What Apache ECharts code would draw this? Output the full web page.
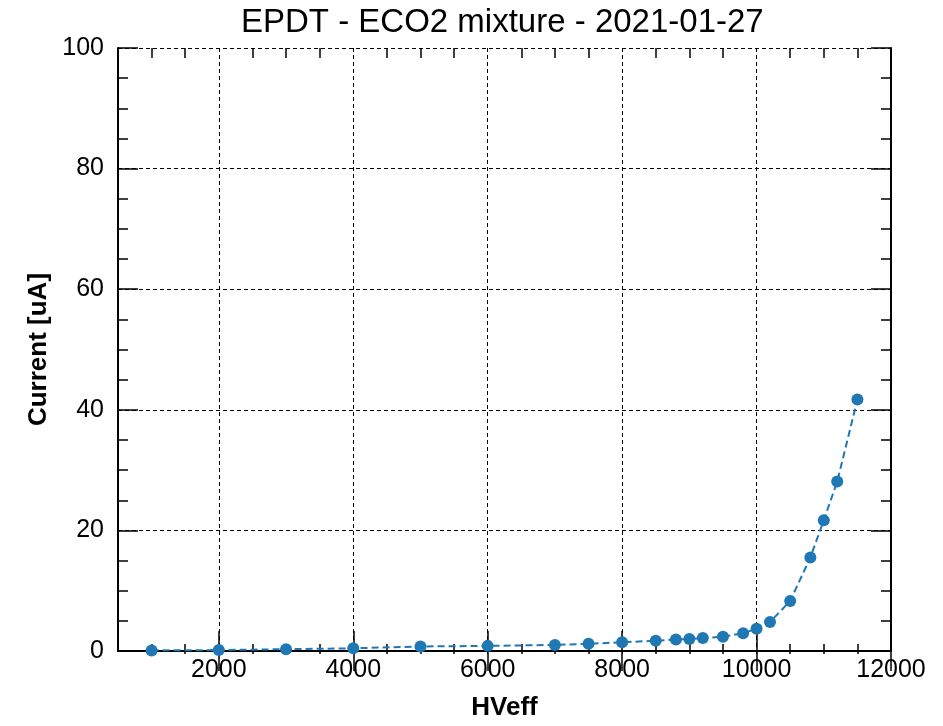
<!DOCTYPE html>
<html>
<head>
<meta charset="utf-8">
<script src="https://cdn.jsdelivr.net/npm/echarts@6/dist/echarts.min.js"></script>
<style>html,body{margin:0;padding:0;background:#fff}#c{width:943px;height:726px}</style>
</head>
<body>
<div id="c"></div>
<script>
const hvEff = [1000,2000,3000,4000,5000,6000,7000,7500,8000,8500,8800,9000,9200,9500,9800,10000,10200,10500,10800,11000,11200,11500];
const current = [0.1,0.15,0.3,0.45,0.75,0.85,1.0,1.2,1.45,1.7,1.9,2.0,2.15,2.35,2.95,3.7,4.8,8.3,15.5,21.7,28.1,41.7];
const xMajorTicks = [2000,4000,6000,8000,10000,12000];
const xMinorTicks = [1000,1500,2500,3000,3500,4500,5000,5500,6500,7000,7500,8500,9000,9500,10500,11000,11500];
const xGridLines = [2000,4000,6000,8000,10000];

const FONT = 'Liberation Sans';
const gridRect = {left:118, right:52, top:48, bottom:72};
const axisLine = {show:true, lineStyle:{color:'#000', width:2}};
const majorTick = {show:true, inside:true, length:20, lineStyle:{color:'#000', width:1.5}};
const minorTickStyle = {show:true, inside:true, length:10, lineStyle:{color:'#000', width:1.5}};
const gridLineStyle = {color:'#000', width:1, type:[4,3]};
const plainNum = function(v){ return String(v); };

const chart = echarts.init(document.getElementById('c'), null, {renderer:'canvas'});
chart.setOption({
  animation:false,
  backgroundColor:'#fff',
  title:{
    text:'EPDT - ECO2 mixture - 2021-01-27',
    left:236, top:1,
    textStyle:{fontFamily:FONT, fontSize:33, fontWeight:'normal', color:'#000'}
  },
  grid:[Object.assign({}, gridRect), Object.assign({}, gridRect)],
  xAxis:[
    {type:'value', gridIndex:0, position:'bottom', min:500, max:12000,
     name:'HVeff', nameLocation:'middle', nameGap:44,
     nameTextStyle:{fontFamily:FONT, fontSize:26, fontWeight:'bold', color:'#000'},
     axisLine:axisLine,
     axisTick:Object.assign({customValues:xMajorTicks}, majorTick),
     axisLabel:{customValues:xMajorTicks, margin:7, fontFamily:FONT, fontSize:25, color:'#000', formatter:plainNum},
     splitLine:{show:false}},
    {type:'value', gridIndex:0, position:'top', min:500, max:12000,
     axisLine:axisLine,
     axisTick:Object.assign({customValues:xMajorTicks}, majorTick),
     axisLabel:{show:false}, splitLine:{show:false}},
    {type:'value', gridIndex:1, position:'bottom', min:500, max:12000,
     axisLine:{show:false},
     axisTick:Object.assign({customValues:xMinorTicks}, minorTickStyle),
     axisLabel:{show:false}, splitLine:{show:false}},
    {type:'value', gridIndex:1, position:'top', min:500, max:12000,
     axisLine:{show:false},
     axisTick:Object.assign({customValues:xMinorTicks}, minorTickStyle),
     axisLabel:{show:false}, splitLine:{show:false}},
    {type:'value', gridIndex:1, position:'bottom', min:500, max:12000, show:true,
     axisLine:{show:false},
     axisTick:{show:false, customValues:xGridLines},
     axisLabel:{show:false},
     splitLine:{show:true, lineStyle:gridLineStyle}}
  ],
  yAxis:[
    {type:'value', gridIndex:0, position:'left', min:0, max:100, interval:20,
     name:'Current [uA]', nameLocation:'middle', nameGap:66, nameRotate:90,
     nameTextStyle:{fontFamily:FONT, fontSize:26, fontWeight:'bold', color:'#000'},
     axisLine:axisLine, axisTick:majorTick,
     minorTick:{show:true, splitNumber:4, length:10, lineStyle:{color:'#000', width:1.5}},
     axisLabel:{margin:14, fontFamily:FONT, fontSize:25, color:'#000', formatter:plainNum},
     splitLine:{show:true, lineStyle:gridLineStyle},
     minorSplitLine:{show:false}},
    {type:'value', gridIndex:0, position:'right', min:0, max:100, interval:20,
     axisLine:axisLine, axisTick:majorTick,
     minorTick:{show:true, splitNumber:4, length:10, lineStyle:{color:'#000', width:1.5}},
     axisLabel:{show:false}, splitLine:{show:false}},
    {type:'value', gridIndex:1, min:0, max:100, show:false}
  ],
  series:[{
    type:'line', xAxisIndex:0, yAxisIndex:0,
    data:hvEff.map((x,i)=>[x,current[i]]),
    symbol:'circle', symbolSize:12,
    itemStyle:{color:'#1f77b4'},
    lineStyle:{color:'#1f77b4', width:2, type:[7,4]},
    z:5
  }]
});
</script>
</body>
</html>
